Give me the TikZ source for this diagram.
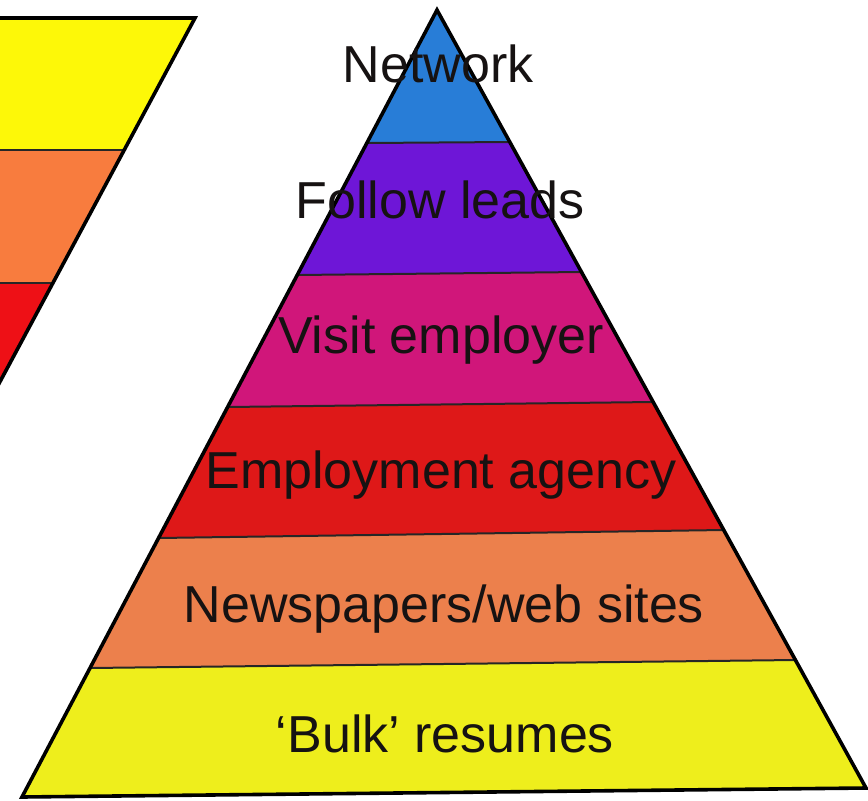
\documentclass[tikz,border=0pt]{standalone}
\usepackage{fontspec}
\setmainfont{Liberation Sans}
\definecolor{pyYellow}{RGB}{238,238,28}
\definecolor{pyOrange}{RGB}{236,128,76}
\definecolor{pyRed}{RGB}{222,24,24}
\definecolor{pyMagenta}{RGB}{208,22,122}
\definecolor{pyPurple}{RGB}{110,22,215}
\definecolor{pyBlue}{RGB}{40,125,215}
\definecolor{lfYellow}{RGB}{253,248,8}
\definecolor{lfOrange}{RGB}{248,124,62}
\definecolor{lfRed}{RGB}{238,16,22}
\definecolor{inkText}{RGB}{22,18,18}
\begin{document}
\begin{tikzpicture}[x=1pt,y=-1pt,
  outline/.style={draw=black,line width=3.6pt,line join=miter},
  bandline/.style={draw=black!85,line width=2pt},
  label/.style={anchor=base,inner sep=0pt,text=inkText,font=\fontsize{52}{60}\selectfont}]
\useasboundingbox (0,0) rectangle (868,801);
\fill[white] (0,0) rectangle (868,801);
\begin{scope}
\clip (0,0) rectangle (868,801);
% left partial shape
\fill[lfYellow] (-5,18) -- (195,18) -- (124.3,150) -- (-5,150) -- cycle;
\fill[lfOrange] (-5,150) -- (124.3,150) -- (53,283) -- (-5,283) -- cycle;
\fill[lfRed] (-5,283) -- (53,283) -- (-2.7,387) -- (-5,387) -- cycle;
\draw[bandline] (-5,150) -- (124.3,150);
\draw[bandline] (-5,283) -- (53,283);
\draw[outline] (-5,18) -- (195,18) -- (-5,391);
\end{scope}
% pyramid corners
\coordinate (apex) at (437,10);
\coordinate (bl) at (22,797);
\coordinate (br) at (866,788);
\coordinate (l1) at (366.9,143); \coordinate (r1) at (509.8,142);
\coordinate (l2) at (297.3,275); \coordinate (r2) at (581.5,272);
\coordinate (l3) at (227.7,407); \coordinate (r3) at (653.1,402);
\coordinate (l4) at (158.6,538); \coordinate (r4) at (723.7,530);
\coordinate (l5) at (90,668);    \coordinate (r5) at (795.4,660);
\fill[pyBlue] (apex) -- (r1) -- (l1) -- cycle;
\fill[pyPurple] (l1) -- (r1) -- (r2) -- (l2) -- cycle;
\fill[pyMagenta] (l2) -- (r2) -- (r3) -- (l3) -- cycle;
\fill[pyRed] (l3) -- (r3) -- (r4) -- (l4) -- cycle;
\fill[pyOrange] (l4) -- (r4) -- (r5) -- (l5) -- cycle;
\fill[pyYellow] (l5) -- (r5) -- (br) -- (bl) -- cycle;
\draw[bandline] (l1) -- (r1);
\draw[bandline] (l2) -- (r2);
\draw[bandline] (l3) -- (r3);
\draw[bandline] (l4) -- (r4);
\draw[bandline] (l5) -- (r5);
\draw[outline] (apex) -- (br) -- (bl) -- cycle;
% labels
\node[label] (t1) at (438,82) {Network};
\node[label] (t2) at (440,218) {Follow leads};
\node[label] (t3) at (441,353) {Visit employer};
\node[label] (t4) at (441,488) {Employment agency};
\node[label] (t5) at (444,622) {Newspapers/web sites};
\node[label] (t6) at (445,752) {‘Bulk’ resumes};
\end{tikzpicture}
\end{document}
